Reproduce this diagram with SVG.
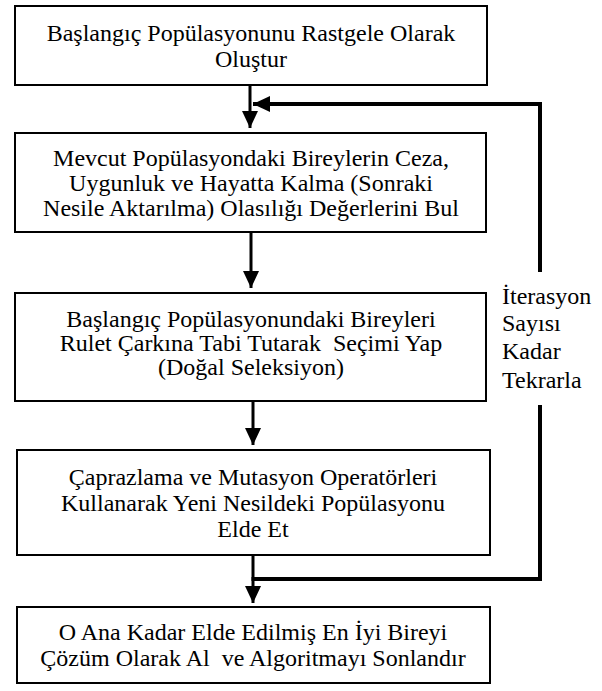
<svg xmlns="http://www.w3.org/2000/svg" width="602" height="691" viewBox="0 0 602 691">
<defs>
<marker id="ah" markerUnits="userSpaceOnUse" markerWidth="17" markerHeight="16" refX="17" refY="8" orient="auto" viewBox="0 0 17 16">
<path d="M0,0 L17,8 L0,16 z" fill="#000"/>
</marker>
</defs>
<rect width="602" height="691" fill="#fff"/>
<g id="connectors" fill="none" stroke="#000">
<path stroke-width="3" d="M250,85 V128" marker-end="url(#ah)"/>
<path stroke-width="3" d="M251,232 V288" marker-end="url(#ah)"/>
<path stroke-width="3" d="M253,401 V445" marker-end="url(#ah)"/>
<path stroke-width="3" d="M253,555 V603" marker-end="url(#ah)"/>
<path stroke-width="4" d="M251.5,579 H540 V405"/>
<path stroke-width="4" d="M540,272 V104 H253" marker-end="url(#ah)"/>
</g>
<g id="n1">
<rect x="15" y="6" width="472" height="79" fill="#fff" stroke="#000" stroke-width="2"/>
<text x="251" y="41" font-family="Liberation Serif" font-size="24" text-anchor="middle">Başlangıç Popülasyonunu Rastgele Olarak</text>
<text x="251" y="67" font-family="Liberation Serif" font-size="24" text-anchor="middle">Oluştur</text>
</g>
<g id="n2">
<rect x="15" y="133" width="471" height="99" fill="#fff" stroke="#000" stroke-width="2"/>
<text x="251" y="166" font-family="Liberation Serif" font-size="24" text-anchor="middle">Mevcut Popülasyondaki Bireylerin Ceza,</text>
<text x="251" y="191" font-family="Liberation Serif" font-size="24" text-anchor="middle">Uygunluk ve Hayatta Kalma (Sonraki</text>
<text x="251" y="216" font-family="Liberation Serif" font-size="24" text-anchor="middle">Nesile Aktarılma) Olasılığı Değerlerini Bul</text>
</g>
<g id="n3">
<rect x="15" y="293" width="471" height="108" fill="#fff" stroke="#000" stroke-width="2"/>
<text x="251" y="327" font-family="Liberation Serif" font-size="24" text-anchor="middle">Başlangıç Popülasyonundaki Bireyleri</text>
<text x="251" y="351" font-family="Liberation Serif" font-size="24" text-anchor="middle" xml:space="preserve">Rulet Çarkına Tabi Tutarak  Seçimi Yap</text>
<text x="251" y="375" font-family="Liberation Serif" font-size="24" text-anchor="middle">(Doğal Seleksiyon)</text>
</g>
<g id="n4">
<rect x="17" y="450" width="473" height="105" fill="#fff" stroke="#000" stroke-width="2"/>
<text x="253" y="485" font-family="Liberation Serif" font-size="24" text-anchor="middle">Çaprazlama ve Mutasyon Operatörleri</text>
<text x="253" y="511" font-family="Liberation Serif" font-size="24" text-anchor="middle">Kullanarak Yeni Nesildeki Popülasyonu</text>
<text x="253" y="537" font-family="Liberation Serif" font-size="24" text-anchor="middle">Elde Et</text>
</g>
<g id="n5">
<rect x="17" y="607" width="473" height="76" fill="#fff" stroke="#000" stroke-width="2"/>
<text x="253" y="640" font-family="Liberation Serif" font-size="24" text-anchor="middle">O Ana Kadar Elde Edilmiş En İyi Bireyi</text>
<text x="253" y="666" font-family="Liberation Serif" font-size="24" text-anchor="middle" xml:space="preserve">Çözüm Olarak Al  ve Algoritmayı Sonlandır</text>
</g>
<g id="label">
<text x="502" y="304" font-family="Liberation Serif" font-size="24">İterasyon</text>
<text x="502" y="331" font-family="Liberation Serif" font-size="24">Sayısı</text>
<text x="502" y="359" font-family="Liberation Serif" font-size="24">Kadar</text>
<text x="502" y="388" font-family="Liberation Serif" font-size="24">Tekrarla</text>
</g>
</svg>
